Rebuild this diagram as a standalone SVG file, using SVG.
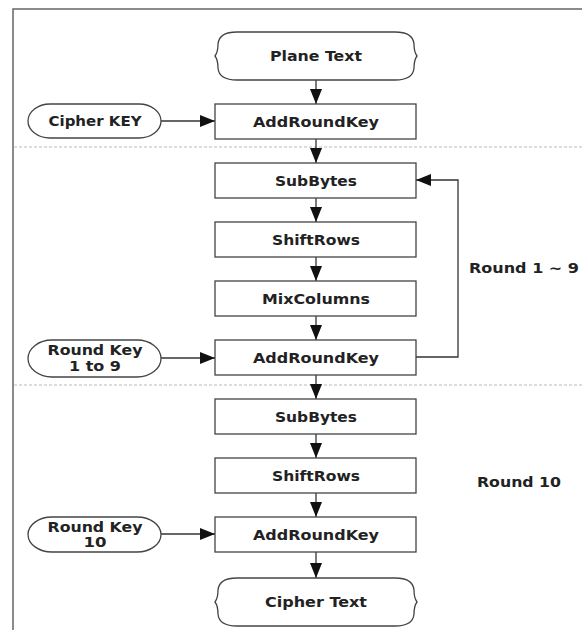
<svg xmlns="http://www.w3.org/2000/svg" width="582" height="630" viewBox="0 0 582 630">
<style>
.box{fill:#fff;stroke:#444;stroke-width:1.3}
.t{font-family:"DejaVu Sans",Verdana,sans-serif;font-weight:bold;font-size:13.5px;fill:#222;text-anchor:middle;dominant-baseline:central}
.c{fill:none;stroke:#333;stroke-width:1.3}
.dash{stroke:#bbb;stroke-width:1;stroke-dasharray:3,2}
</style>
<defs>
<marker id="ah" markerUnits="userSpaceOnUse" markerWidth="16" markerHeight="12" refX="15" refY="6" orient="auto">
<path d="M0,0 L15,6 L0,12 z" fill="#111"/>
</marker>
</defs>
<rect width="582" height="630" fill="#fff"/>
<g id="frame">
<path d="M13,630 V9 H582" fill="none" stroke="#666" stroke-width="1.5"/>
<line class="dash" x1="14" y1="147" x2="582" y2="147"/>
<line class="dash" x1="14" y1="385" x2="582" y2="385"/>
</g>
<g id="connectors">
<line class="c" x1="316" y1="80" x2="316" y2="104" marker-end="url(#ah)"/>
<line class="c" x1="161" y1="121" x2="215" y2="121" marker-end="url(#ah)"/>
<line class="c" x1="316" y1="139" x2="316" y2="163" marker-end="url(#ah)"/>
<line class="c" x1="316" y1="198" x2="316" y2="222" marker-end="url(#ah)"/>
<line class="c" x1="316" y1="257" x2="316" y2="281" marker-end="url(#ah)"/>
<line class="c" x1="316" y1="316" x2="316" y2="340" marker-end="url(#ah)"/>
<line class="c" x1="161" y1="358" x2="215" y2="358" marker-end="url(#ah)"/>
<path class="c" d="M416,357 H458 V180 H416" marker-end="url(#ah)"/>
<line class="c" x1="316" y1="375" x2="316" y2="399" marker-end="url(#ah)"/>
<line class="c" x1="316" y1="434" x2="316" y2="458" marker-end="url(#ah)"/>
<line class="c" x1="316" y1="493" x2="316" y2="517" marker-end="url(#ah)"/>
<line class="c" x1="161" y1="534" x2="215" y2="534" marker-end="url(#ah)"/>
<line class="c" x1="316" y1="552" x2="316" y2="578" marker-end="url(#ah)"/>
</g>
<g id="plane-text">
<path class="box" d="M237,32 H395 Q413,32 414,44 Q414,52 417,56 Q414,60 414,68 Q413,80 395,80 H237 Q219,80 218,68 Q218,60 215,56 Q218,52 218,44 Q219,32 237,32 Z"/>
<text class="t" x="316" y="56" textLength="92" lengthAdjust="spacingAndGlyphs">Plane Text</text>
</g>
<g id="cipher-key">
<rect class="box" x="28" y="104" width="133" height="34" rx="22" ry="17"/>
<text class="t" x="95" y="121" textLength="93" lengthAdjust="spacingAndGlyphs">Cipher KEY</text>
</g>
<g id="addroundkey-0">
<rect class="box" x="215" y="104" width="201" height="35"/>
<text class="t" x="316" y="121.5" textLength="126" lengthAdjust="spacingAndGlyphs">AddRoundKey</text>
</g>
<g id="subbytes-1">
<rect class="box" x="215" y="163" width="201" height="35"/>
<text class="t" x="316" y="180.5" textLength="82" lengthAdjust="spacingAndGlyphs">SubBytes</text>
</g>
<g id="shiftrows-1">
<rect class="box" x="215" y="222" width="201" height="35"/>
<text class="t" x="316" y="239.5" textLength="88" lengthAdjust="spacingAndGlyphs">ShiftRows</text>
</g>
<g id="mixcolumns">
<rect class="box" x="215" y="281" width="201" height="35"/>
<text class="t" x="316" y="298.5" textLength="108" lengthAdjust="spacingAndGlyphs">MixColumns</text>
</g>
<g id="roundkey-1to9">
<rect class="box" x="28" y="340" width="133" height="37" rx="24" ry="18.5"/>
<text class="t" x="95" y="350" textLength="95" lengthAdjust="spacingAndGlyphs">Round Key</text>
<text class="t" x="95" y="366" textLength="52" lengthAdjust="spacingAndGlyphs">1 to 9</text>
</g>
<g id="addroundkey-1">
<rect class="box" x="215" y="340" width="201" height="35"/>
<text class="t" x="316" y="357.5" textLength="126" lengthAdjust="spacingAndGlyphs">AddRoundKey</text>
</g>
<g id="label-round1-9">
<text class="t" x="524" y="268" textLength="110" lengthAdjust="spacingAndGlyphs">Round 1 ~ 9</text>
</g>
<g id="subbytes-2">
<rect class="box" x="215" y="399" width="201" height="35"/>
<text class="t" x="316" y="416.5" textLength="82" lengthAdjust="spacingAndGlyphs">SubBytes</text>
</g>
<g id="shiftrows-2">
<rect class="box" x="215" y="458" width="201" height="35"/>
<text class="t" x="316" y="475.5" textLength="88" lengthAdjust="spacingAndGlyphs">ShiftRows</text>
</g>
<g id="label-round10">
<text class="t" x="519" y="482" textLength="84" lengthAdjust="spacingAndGlyphs">Round 10</text>
</g>
<g id="roundkey-10">
<rect class="box" x="28" y="517" width="133" height="35" rx="24" ry="17.5"/>
<text class="t" x="95" y="527" textLength="95" lengthAdjust="spacingAndGlyphs">Round Key</text>
<text class="t" x="95" y="542" textLength="23" lengthAdjust="spacingAndGlyphs">10</text>
</g>
<g id="addroundkey-2">
<rect class="box" x="215" y="517" width="201" height="35"/>
<text class="t" x="316" y="534.5" textLength="126" lengthAdjust="spacingAndGlyphs">AddRoundKey</text>
</g>
<g id="cipher-text">
<path class="box" d="M237,578 H395 Q413,578 414,590 Q414,598 417,602 Q414,606 414,614 Q413,626 395,626 H237 Q219,626 218,614 Q218,606 215,602 Q218,598 218,590 Q219,578 237,578 Z"/>
<text class="t" x="316" y="602" textLength="102" lengthAdjust="spacingAndGlyphs">Cipher Text</text>
</g>
</svg>
